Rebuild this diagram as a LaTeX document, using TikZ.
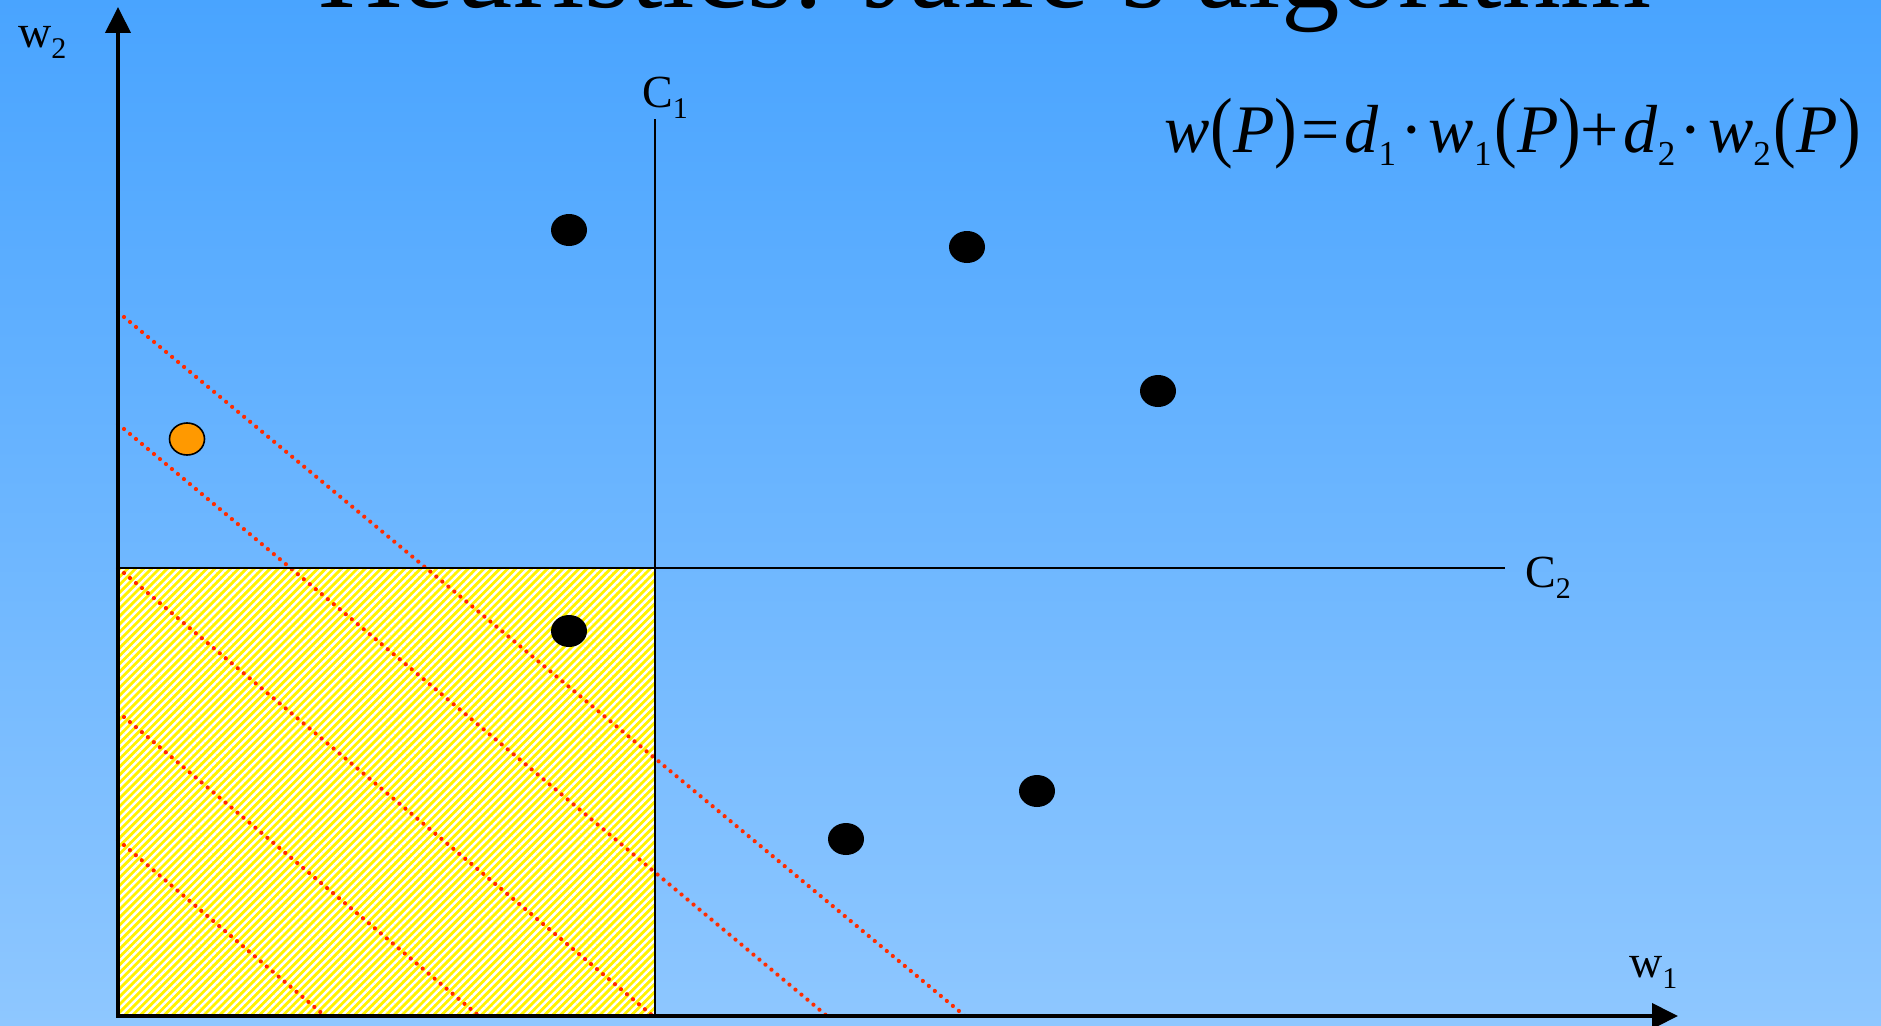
\documentclass[tikz,border=0pt]{standalone}
\usepackage{fontspec}
\setmainfont{Liberation Serif}
\usetikzlibrary{arrows.meta,shapes.geometric,patterns.meta}
\definecolor{bgtop}{RGB}{73,164,255}
\definecolor{bgbot}{RGB}{142,199,255}
\definecolor{reddot}{RGB}{255,45,0}
\definecolor{dotorange}{RGB}{255,153,0}
\newcommand\lsub[1]{\raisebox{-11pt}{\fontsize{30}{30}\selectfont #1}}
\newcommand\fsub[1]{\raisebox{-13pt}{\fontsize{35}{35}\selectfont #1}}
\newcommand\tallp[1]{\scalebox{1}[1.15]{#1}}
\begin{document}
\begin{tikzpicture}[x=1pt,y=-1pt,
  axis/.style={line width=4pt,-{Triangle[width=25pt,length=26pt]}},
  cline/.style={line width=1.6pt},
  redline/.style={reddot,line width=4.2pt,line cap=round,dash pattern=on 0.01pt off 7.8pt},
  bdot/.style={ellipse,fill=black,minimum width=36pt,minimum height=32pt,inner sep=0pt},
  odot/.style={ellipse,fill=dotorange,draw=black,line width=1.6pt,minimum width=35pt,minimum height=32pt,inner sep=0pt},
  lab/.style={font=\fontsize{46}{46}\selectfont,inner sep=0pt,anchor=base west},
]
\useasboundingbox (0,0) rectangle (1881,1025);
\clip (0,0) rectangle (1881,1025);
\shade[top color=bgtop,bottom color=bgbot] (0,0) rectangle (1881,1025);

% title (cut off at top)
\node[font=\fontsize{117}{117}\selectfont,anchor=base west,inner sep=0pt] (title) at (318,8) {Heuristics: Jaffe's algorithm};

% hatched region
\fill[yellow] (118,568) rectangle (655,1016);
\fill[pattern={Lines[angle=45,distance=5.6pt,line width=2.5pt]},pattern color=white] (118,568) rectangle (655,1016);

% red dotted level lines
\coordinate (a1) at (118,312); \coordinate (a2) at (965,1016);
\coordinate (b1) at (118,424); \coordinate (b2) at (827,1016);
\coordinate (c1s) at (118,568); \coordinate (c2s) at (653,1016);
\coordinate (d1) at (118,712); \coordinate (d2) at (479,1016);
\coordinate (e1) at (118,840); \coordinate (e2) at (325,1016);
\draw[redline] (a1) -- (a2);
\draw[redline] (b1) -- (b2);
\draw[redline] (c1s) -- (c2s);
\draw[redline] (d1) -- (d2);
\draw[redline] (e1) -- (e2);

% constraint lines
\coordinate (c1top) at (655,119); \coordinate (c1bot) at (655,1016);
\coordinate (c2left) at (118,568); \coordinate (c2right) at (1505,568);
\draw[cline] (c1top) -- (c1bot);
\draw[cline] (c2left) -- (c2right);

% axes
\coordinate (o) at (118,1016);
\coordinate (ox) at (116,1016);
\coordinate (ytip) at (118,7);
\coordinate (xtip) at (1678,1016);
\draw[axis] (o) -- (ytip);
\draw[axis] (ox) -- (xtip);

% points
\node[bdot] (p1) at (569,230) {};
\node[bdot] (p2) at (967,247) {};
\node[bdot] (p3) at (1158,391) {};
\node[bdot] (p4) at (569,631) {};
\node[bdot] (p5) at (1037,791) {};
\node[bdot] (p6) at (846,839) {};
\node[odot] (po) at (187,439) {};

% labels
\node[lab] (lc1) at (642,107) {C\lsub{1}};
\node[lab] (lc2) at (1525,587) {C\lsub{2}};
\node[lab] (lw2) at (18,48) {w\lsub{2}};
\node[lab] (lw1) at (1629,977) {w\lsub{1}};

% formula
\node[font=\fontsize{68}{68}\selectfont,anchor=base west,inner sep=0pt] (formula) at (1164,152) {%
{\itshape w}\kern1pt\tallp{(}{\itshape P}\tallp{)}\kern4pt=\kern5pt{\itshape d}\fsub{1}\kern4pt·\kern6pt%
{\itshape w}\fsub{1}\kern3pt\tallp{(}{\itshape P}\tallp{)}\kern-1pt+\kern5pt%
{\itshape d}\fsub{2}\kern4pt·\kern6pt{\itshape w}\fsub{2}\kern3pt\tallp{(}{\itshape P}\tallp{)}};
\end{tikzpicture}
\end{document}
